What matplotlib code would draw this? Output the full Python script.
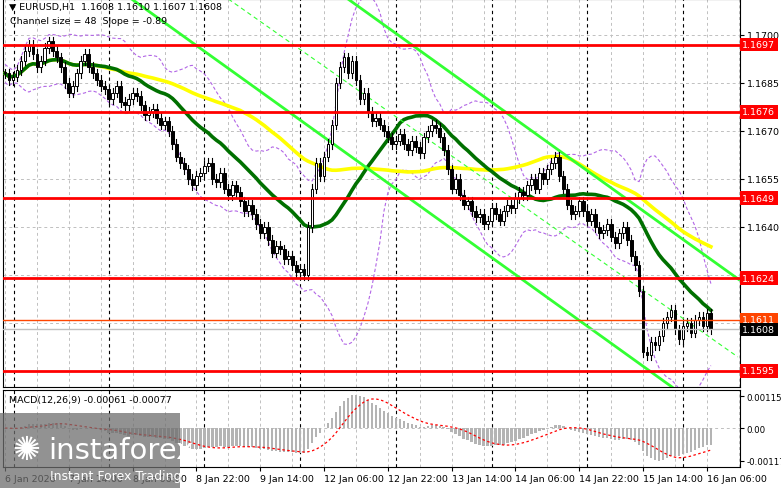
import numpy as np
import pandas as pd
import matplotlib
matplotlib.use("Agg")
import matplotlib.pyplot as plt
from matplotlib.patches import Rectangle

# hourly closes, in pips above 1.1600
closes_pips = [88,86,87,89,92,95,97,94,90,92,96,98,95,93,90,85,82,84,88,92,94,90,88,86,84,
               83,80,82,84,79,78,80,82,81,78,75,76,77,74,72,73,70,66,62,60,58,55,53,56,57,
               59,60,55,54,57,52,50,53,51,48,45,47,44,41,38,40,36,32,34,33,30,31,28,26,27,
               25,40,52,60,56,62,66,72,85,90,93,88,92,86,80,82,76,73,74,72,70,68,66,67,69,
               66,64,67,65,63,68,70,72,71,68,64,58,52,55,50,47,48,45,43,44,41,42,46,44,42,
               45,47,46,49,51,50,53,55,52,57,55,58,60,62,56,52,47,44,45,48,45,42,44,40,38,
               39,41,37,35,38,40,36,31,28,20,1,0,4,3,6,10,12,14,8,5,9,10,7,11,12,9,13,8]
levels_red = [1.1697, 1.1676, 1.1649, 1.1624, 1.1595]
level_orange = 1.1611
level_last = 1.1608
price_ticks = [1.1700, 1.1685, 1.1670, 1.1655, 1.1640]
tick_bars = [0,16,32,48,64,80,96,112,128,144,160,176]
tick_labels = ["6 Jan 2026","7 Jan 14:00","8 Jan 06:00","8 Jan 22:00","9 Jan 14:00","12 Jan 06:00",
               "12 Jan 22:00","13 Jan 14:00","14 Jan 06:00","14 Jan 22:00","15 Jan 14:00","16 Jan 06:00"]
day_bars = [2.25,26,50,74,98,122,146,170]
# channel lines: (bar0, price0, bar1, price1)
chan_lower = (31.75, 1.171125, 167.25, 1.15900)
chan_upper = (86.0, 1.171125, 184.0, 1.16236)
chan_mid = (56.0, 1.171125, 183.75, 1.15994)

c = 1.16 + np.array(closes_pips) / 10000.0
o = np.concatenate([[c[0]], c[:-1]])
hi = np.maximum(o, c) + 0.00015
lo = np.minimum(o, c) - 0.00015
n = len(c)
x = np.arange(n)
s = pd.Series(c)

FS = 6.8
fig = plt.figure(figsize=(7.81, 4.89), dpi=100)
W, H = 781, 489
ax = fig.add_axes([3/W, 1-388/H, 737/W, 388/H])
mx = fig.add_axes([3/W, 1-468/H, 737/W, 77/H])
xl = (-0.5, 184.3)
for a in (ax, mx):
    a.set_xlim(*xl)
    for sp in a.spines.values():
        sp.set_color("black")
    a.yaxis.tick_right()
    a.tick_params(axis="y", length=3, labelsize=FS, pad=2)
    a.set_xticks(tick_bars)
    for b in range(0, 185, 8):
        a.axvline(b, color="#c0c0c0", lw=0.7, ls=(0, (3, 3)), zorder=0)
    for b in day_bars:
        a.axvline(b, color="black", lw=0.8, ls=(0, (3, 3)), zorder=1)
ax.set_xticklabels([])
ax.tick_params(axis="x", length=0)
mx.set_xticklabels(tick_labels, fontsize=FS, ha="left")
mx.tick_params(axis="x", length=3, pad=2)
mx.tick_params(axis="y", labelsize=6.2, pad=1.5)

ax.set_ylim(1.1590, 1.171125)
ax.set_yticks(price_ticks)
ax.set_yticklabels([f"{p:.4f}" for p in price_ticks])
for p in np.arange(1.1595, 1.1711, 0.0015):
    ax.axhline(p, color="#c0c0c0", lw=0.7, ls=(0, (3, 3)), zorder=0)

# indicators
ma_fast = s.rolling(24, min_periods=1).mean()
ma_slow = s.rolling(60, min_periods=1).mean()
bb_mid = s.rolling(20, min_periods=1).mean()
bb_sd = s.rolling(20, min_periods=2).std().bfill()
ax.plot(x, bb_mid + 2*bb_sd, color="#b266e6", lw=0.8, ls=(0, (3, 2)), zorder=2)
ax.plot(x, bb_mid - 2*bb_sd, color="#b266e6", lw=0.8, ls=(0, (3, 2)), zorder=2)
ax.plot(x, ma_slow, color="#ffff00", lw=2.6, zorder=3)
ax.plot(x, ma_fast, color="#007000", lw=2.6, zorder=3)
for (b0, p0, b1, p1) in (chan_lower, chan_upper):
    ax.plot([b0, b1], [p0, p1], color="#33ff33", lw=2, zorder=3)
b0, p0, b1, p1 = chan_mid
ax.plot([b0, b1], [p0, p1], color="#33ff33", lw=0.8, ls=(0, (4, 3)), zorder=3)

# candles
for i in range(n):
    ax.plot([i, i], [lo[i], hi[i]], color="black", lw=0.8, zorder=4)
    bot, top = min(o[i], c[i]), max(o[i], c[i])
    fc = "white" if c[i] >= o[i] else "black"
    ax.add_patch(Rectangle((i-0.35, bot), 0.7, max(top-bot, 0.00003), facecolor=fc,
                           edgecolor="black", lw=0.7, zorder=5))

for p in levels_red:
    ax.axhline(p, color="#ff0000", lw=2, zorder=6)
ax.axhline(level_orange, color="#ff4500", lw=1, zorder=6)
ax.axhline(level_last, color="#c0c0c0", lw=1, zorder=6)
def tag(p, fc, tc="white"):
    ax.text(1.003, p, f"{p:.4f}", transform=ax.get_yaxis_transform(), ha="left", va="center",
            fontsize=FS, color=tc, zorder=10, clip_on=False,
            bbox=dict(boxstyle="square,pad=0.25", fc=fc, ec="none"))
for p in levels_red:
    tag(p, "#ff0000")
tag(level_orange, "#ff4500")
tag(level_last, "black")

ax.text(0.008, 0.993, "▼ EURUSD,H1  1.1608 1.1610 1.1607 1.1608", transform=ax.transAxes,
        fontsize=FS, va="top", zorder=11)
ax.text(0.01, 0.955, "Channel size = 48  Slope = -0.89", transform=ax.transAxes,
        fontsize=FS, va="top", zorder=11)

# MACD
macd = s.ewm(span=12, adjust=False).mean() - s.ewm(span=26, adjust=False).mean()
sig = macd.rolling(9, min_periods=1).mean()
mx.set_ylim(-0.0014, 0.001366)
mx.set_yticks([0.00115, 0.0, -0.00117])
mx.set_yticklabels(["0.00115", "0.00", "-0.00117"])
mx.axhline(0, color="#c0c0c0", lw=0.7, ls=(0, (3, 3)))
mx.bar(x, macd, width=0.6, color="#b4b4b4", zorder=2)
mx.plot(x, sig, color="red", lw=0.9, ls=(0, (2, 2)), zorder=3)
mx.text(0.008, 0.93, "MACD(12,26,9) -0.00061 -0.00077", transform=mx.transAxes,
        fontsize=FS, va="top")

# logo
fig.patches.append(Rectangle((0, 0), 180/W, 75/H, transform=fig.transFigure,
                             fc="#6e6e6e", alpha=0.75, zorder=20))
fig.text(48/W, 38/H, "instaforex", color="white", fontsize=21, zorder=21, va="center")
fig.text(50/W, 12/H, "Instant Forex Trading", color="white", fontsize=9, zorder=21, va="center")
fig.text(26/W, 38/H, "✺", color="white", fontsize=24, zorder=21, va="center", ha="center")

fig.savefig("out.png", dpi=100)
